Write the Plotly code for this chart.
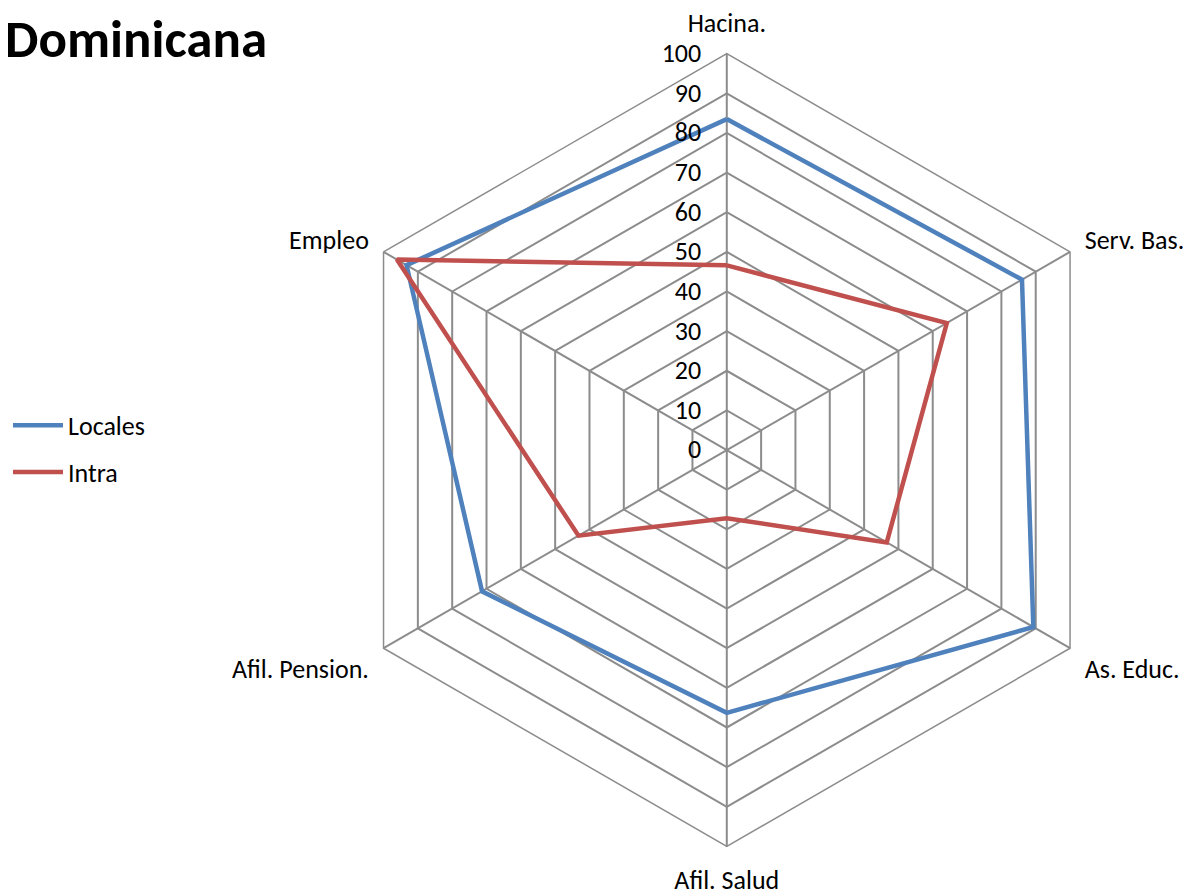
import plotly.graph_objects as go

# ejes del radar (en sentido horario desde arriba)
categories = ["Hacina.", "Serv. Bas.", "As. Educ.", "Afil. Salud", "Afil. Pension.", "Empleo"]

# valores
locales = [83.5, 86, 89.3, 66.3, 71.3, 93.3]
intra = [46.6, 64.1, 46.6, 17.2, 43.2, 96.1]

radial_ticks = [0, 10, 20, 30, 40, 50, 60, 70, 80, 90, 100]

FONT = "Carlito, Calibri, Lato, sans-serif"
GRID = "#8c8c8c"


def closed(values):
    return values + values[:1]


fig = go.Figure()

fig.add_trace(
    go.Scatterpolar(
        r=closed(locales),
        theta=closed(categories),
        mode="lines",
        name="Locales",
        line=dict(color="#4F81BD", width=4.5),
        legendgroup="a",
    )
)

fig.add_trace(
    go.Scatterpolar(
        r=closed(intra),
        theta=closed(categories),
        mode="lines",
        name="Intra",
        line=dict(color="#C0504D", width=4.5),
        legendgroup="b",
    )
)

fig.update_layout(
    width=1191,
    height=894,
    margin=dict(l=0, r=0, t=0, b=0),
    paper_bgcolor="white",
    plot_bgcolor="white",
    font=dict(family=FONT, size=26, color="black"),
    polar=dict(
        domain=dict(x=[0.2695, 0.9362], y=[0.0615, 0.9496]),
        bgcolor="white",
        gridshape="linear",
        radialaxis=dict(
            range=[0, 100],
            tickvals=radial_ticks,
            ticktext=[str(v) for v in radial_ticks],
            angle=90,
            side="counterclockwise",
            tickangle=90,
            showline=False,
            gridcolor=GRID,
            gridwidth=1.5,
            ticks="outside",
            ticklen=16,
            tickcolor="rgba(0,0,0,0)",
            tickfont=dict(size=26),
        ),
        angularaxis=dict(
            rotation=90,
            direction="clockwise",
            showline=True,
            linecolor=GRID,
            linewidth=1.5,
            gridcolor=GRID,
            gridwidth=1.5,
            ticks="outside",
            ticklen=11,
            tickcolor="rgba(0,0,0,0)",
            tickfont=dict(size=26),
        ),
    ),
    legend=dict(
        x=-0.002,
        y=0.507,
        xanchor="left",
        yanchor="middle",
        font=dict(size=26),
        tracegroupgap=10,
        itemwidth=50,
        bgcolor="rgba(0,0,0,0)",
    ),
    annotations=[
        dict(
            text="República<br>Dominicana",
            x=-0.006,
            y=0.927,
            xref="paper",
            yref="paper",
            xanchor="left",
            yanchor="bottom",
            align="left",
            showarrow=False,
            font=dict(size=53, family=FONT, color="black", weight="bold"),
        )
    ],
)

fig.write_html("out.html")
